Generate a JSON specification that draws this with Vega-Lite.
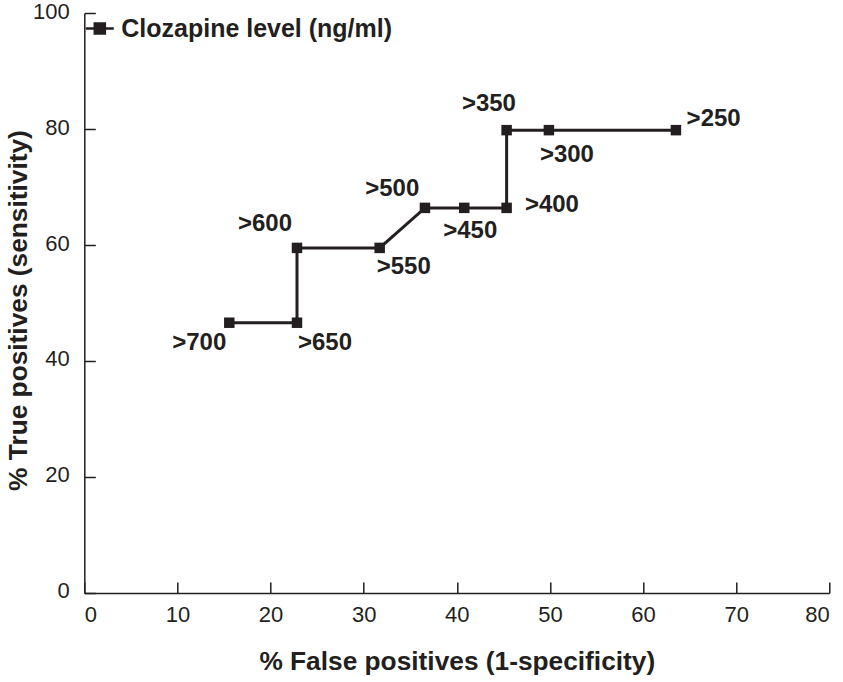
{
  "$schema": "https://vega.github.io/schema/vega-lite/v6.json",
  "width": 745,
  "height": 580,
  "autosize": {"type": "none"},
  "padding": {"left": 84.3, "top": 13, "right": 14, "bottom": 89},
  "background": "white",
  "config": {
    "view": {"stroke": null},
    "font": "Liberation Sans",
    "axis": {
      "grid": false,
      "domainColor": "#231f20",
      "domainWidth": 1.5,
      "tickColor": "#231f20",
      "tickWidth": 1.5,
      "tickSize": -11,
      "labelColor": "#231f20",
      "labelFont": "Liberation Sans",
      "labelFontSize": 22,
      "titleColor": "#231f20",
      "titleFont": "Liberation Sans",
      "titleFontSize": 26.3,
      "titleFontWeight": "bold"
    }
  },
  "data": {
    "values": [
      {"threshold": 700, "label": ">700", "fp": 15.57, "tp": 46.6},
      {"threshold": 650, "label": ">650", "fp": 22.84, "tp": 46.6},
      {"threshold": 600, "label": ">600", "fp": 22.84, "tp": 59.5},
      {"threshold": 550, "label": ">550", "fp": 31.72, "tp": 59.5},
      {"threshold": 500, "label": ">500", "fp": 36.58, "tp": 66.4},
      {"threshold": 450, "label": ">450", "fp": 40.8, "tp": 66.4},
      {"threshold": 400, "label": ">400", "fp": 45.35, "tp": 66.4},
      {"threshold": 350, "label": ">350", "fp": 45.35, "tp": 79.8},
      {"threshold": 300, "label": ">300", "fp": 49.89, "tp": 79.8},
      {"threshold": 250, "label": ">250", "fp": 63.53, "tp": 79.8}
    ]
  },
  "encoding": {
    "x": {
      "field": "fp",
      "type": "quantitative",
      "scale": {"domain": [0, 80], "nice": false, "zero": false},
      "axis": {
        "title": "% False positives (1-specificity)",
        "values": [0, 10, 20, 30, 40, 50, 60, 70, 80],
        "labelPadding": 22.6,
        "titleX": 372.5,
        "titleY": 76.3,
        "titleAlign": "center",
        "titleBaseline": "alphabetic"
      }
    },
    "y": {
      "field": "tp",
      "type": "quantitative",
      "scale": {"domain": [0, 100], "nice": false},
      "axis": {
        "title": "% True positives (sensitivity)",
        "values": [0, 20, 40, 60, 80, 100],
        "labelPadding": 26,
        "labelOffset": -2,
        "titleX": -57.6,
        "titleY": 297,
        "titleAngle": -90,
        "titleAlign": "center",
        "titleBaseline": "alphabetic"
      }
    }
  },
  "layer": [
    {
      "mark": {"type": "line", "strokeWidth": 3},
      "encoding": {
        "order": {"field": "threshold", "sort": "descending"},
        "color": {
          "datum": "Clozapine level (ng/ml)",
          "scale": {"range": ["#231f20"]},
          "legend": {
            "title": null,
            "orient": "none",
            "legendX": 0,
            "legendY": 0,
            "padding": 0,
            "symbolType": "M-1,0H1M-0.36,-0.36H0.36V0.36H-0.36Z",
            "symbolSize": 784,
            "symbolStrokeWidth": 2.5,
            "symbolStrokeColor": "#231f20",
            "symbolFillColor": "#231f20",
            "labelFont": "Liberation Sans",
            "labelFontSize": 25,
            "labelFontWeight": "bold",
            "labelColor": "#231f20",
            "labelOffset": 6,
            "labelLimit": 400,
            "encode": {"symbols": {"update": {"fill": {"value": "#231f20"}, "stroke": {"value": "#231f20"}, "strokeWidth": {"value": 2.5}}}}
          }
        }
      }
    },
    {
      "mark": {"type": "point", "shape": "square", "filled": true, "size": 110, "opacity": 1, "color": "#231f20"}
    },
    {
      "transform": [{"filter": "datum.label === '>700'"}],
      "mark": {"type": "text", "align": "right", "baseline": "alphabetic", "dx": -3, "dy": 27, "fontSize": 24, "fontWeight": "bold", "color": "#231f20", "font": "Liberation Sans"},
      "encoding": {"text": {"field": "label"}}
    },
    {
      "transform": [{"filter": "datum.label === '>650'"}],
      "mark": {"type": "text", "align": "left", "baseline": "alphabetic", "dx": 1, "dy": 27, "fontSize": 24, "fontWeight": "bold", "color": "#231f20", "font": "Liberation Sans"},
      "encoding": {"text": {"field": "label"}}
    },
    {
      "transform": [{"filter": "datum.label === '>600'"}],
      "mark": {"type": "text", "align": "right", "baseline": "alphabetic", "dx": -5, "dy": -17, "fontSize": 24, "fontWeight": "bold", "color": "#231f20", "font": "Liberation Sans"},
      "encoding": {"text": {"field": "label"}}
    },
    {
      "transform": [{"filter": "datum.label === '>550'"}],
      "mark": {"type": "text", "align": "left", "baseline": "alphabetic", "dx": -3, "dy": 26.3, "fontSize": 24, "fontWeight": "bold", "color": "#231f20", "font": "Liberation Sans"},
      "encoding": {"text": {"field": "label"}}
    },
    {
      "transform": [{"filter": "datum.label === '>500'"}],
      "mark": {"type": "text", "align": "right", "baseline": "alphabetic", "dx": -5.7, "dy": -11.7, "fontSize": 24, "fontWeight": "bold", "color": "#231f20", "font": "Liberation Sans"},
      "encoding": {"text": {"field": "label"}}
    },
    {
      "transform": [{"filter": "datum.label === '>450'"}],
      "mark": {"type": "text", "align": "left", "baseline": "alphabetic", "dx": -21, "dy": 30.6, "fontSize": 24, "fontWeight": "bold", "color": "#231f20", "font": "Liberation Sans"},
      "encoding": {"text": {"field": "label"}}
    },
    {
      "transform": [{"filter": "datum.label === '>400'"}],
      "mark": {"type": "text", "align": "left", "baseline": "alphabetic", "dx": 18.3, "dy": 4.6, "fontSize": 24, "fontWeight": "bold", "color": "#231f20", "font": "Liberation Sans"},
      "encoding": {"text": {"field": "label"}}
    },
    {
      "transform": [{"filter": "datum.label === '>350'"}],
      "mark": {"type": "text", "align": "right", "baseline": "alphabetic", "dx": 9.3, "dy": -19, "fontSize": 24, "fontWeight": "bold", "color": "#231f20", "font": "Liberation Sans"},
      "encoding": {"text": {"field": "label"}}
    },
    {
      "transform": [{"filter": "datum.label === '>300'"}],
      "mark": {"type": "text", "align": "left", "baseline": "alphabetic", "dx": -9, "dy": 31.7, "fontSize": 24, "fontWeight": "bold", "color": "#231f20", "font": "Liberation Sans"},
      "encoding": {"text": {"field": "label"}}
    },
    {
      "transform": [{"filter": "datum.label === '>250'"}],
      "mark": {"type": "text", "align": "left", "baseline": "alphabetic", "dx": 10.7, "dy": -4.3, "fontSize": 24, "fontWeight": "bold", "color": "#231f20", "font": "Liberation Sans"},
      "encoding": {"text": {"field": "label"}}
    }
  ]
}
